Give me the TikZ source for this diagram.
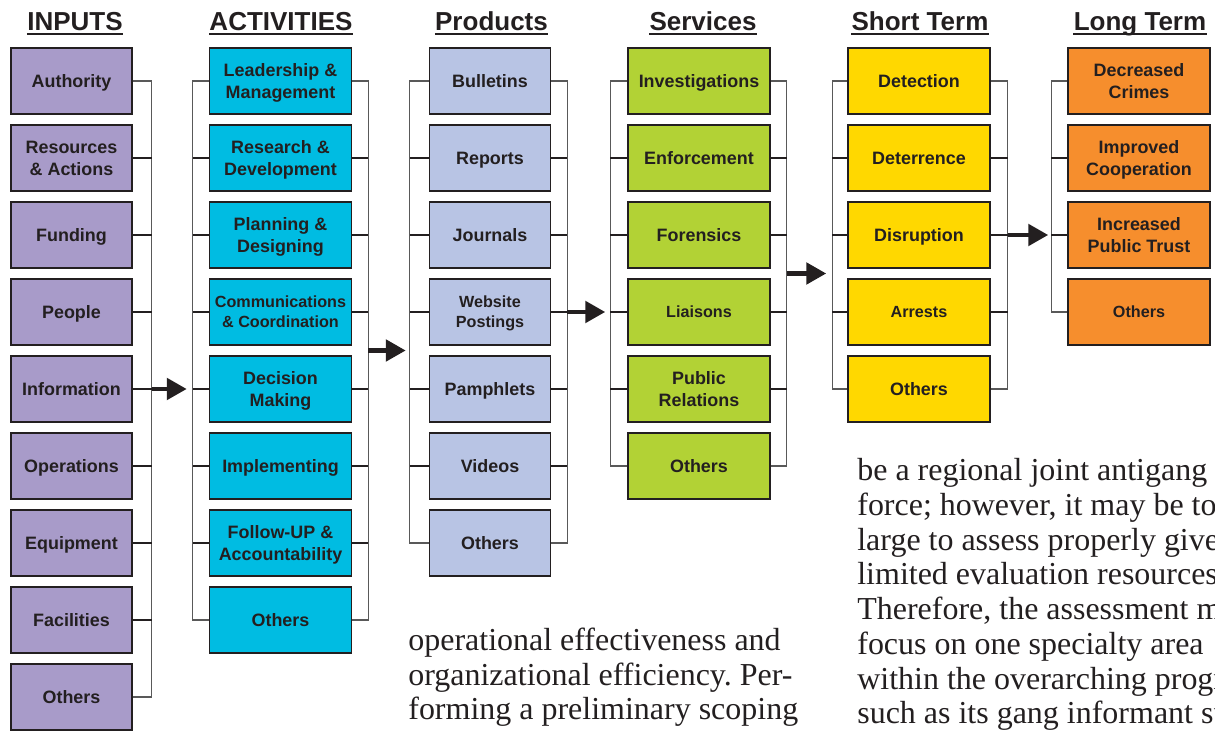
\documentclass[tikz,border=0pt]{standalone}
\usepackage{fontspec}
\setmainfont{Liberation Serif}
\setsansfont{Liberation Sans}
\usetikzlibrary{arrows.meta, calc}
\frenchspacing
\definecolor{ink}{RGB}{35,31,32}
\definecolor{inputfill}{RGB}{168,155,201}
\definecolor{actfill}{RGB}{0,188,226}
\definecolor{prodfill}{RGB}{184,196,228}
\definecolor{servfill}{RGB}{178,210,53}
\definecolor{shortfill}{RGB}{255,216,0}
\definecolor{longfill}{RGB}{246,142,45}
\tikzset{box/.style = {draw=ink, line width=0.8pt, minimum height=1.32cm, inner sep=0pt, text depth=0pt, align=center, text=ink, font=\sffamily\bfseries\fontsize{10.2}{12.4}\selectfont}}
\tikzset{wide/.style = {box, minimum width=2.84cm}, narrow/.style = {box, minimum width=2.42cm}}
\tikzset{small/.style = {font=\sffamily\bfseries\fontsize{9.2}{11.3}\selectfont}}
\tikzset{head/.style = {anchor=base, inner sep=0pt, text=ink, font=\sffamily\bfseries\fontsize{14.8}{16}\selectfont}}
\tikzset{uline/.style = {draw=ink, line width=1.1pt}}
\tikzset{brace/.style = {draw=black!65, line width=0.6pt}, tick/.style = {draw=ink, line width=1pt}}
\tikzset{flow/.style = {draw=ink, line width=2.8pt, -{Triangle[length=0.4cm, width=0.42cm]}}}
\tikzset{body/.style = {anchor=base west, inner sep=0pt, align=left, text=ink, font=\rmfamily\fontsize{18.2}{19.8}\selectfont}}

\begin{document}
\begin{tikzpicture}[x=0.02cm, y=-0.02cm]
\useasboundingbox (0,0) rectangle (1215,732);
\clip (0,0) rectangle (1215,732);

\node[head] (hIn) at (75,31) {INPUTS};
\node[head] (hAct) at (281,31) {ACTIVITIES};
\node[head] (hProd) at (491.5,31) {Products};
\node[head] (hServ) at (703,31) {Services};
\node[head] (hShort) at (920,31) {Short Term};
\node[head] (hLong) at (1140,31) {Long Term};
\foreach \h in {hIn, hAct, hProd, hServ, hShort, hLong}
  \draw[uline] ([yshift=-1.6pt]\h.base west) -- ([yshift=-1.6pt]\h.base east);

\node[narrow, fill=inputfill] (in1) at (71.5,81) {Authority};
\node[narrow, fill=inputfill] (in2) at (71.5,158) {Resources\\\& Actions};
\node[narrow, fill=inputfill] (in3) at (71.5,235) {Funding};
\node[narrow, fill=inputfill] (in4) at (71.5,312) {People};
\node[narrow, fill=inputfill] (in5) at (71.5,389) {Information};
\node[narrow, fill=inputfill] (in6) at (71.5,466) {Operations};
\node[narrow, fill=inputfill] (in7) at (71.5,543) {Equipment};
\node[narrow, fill=inputfill] (in8) at (71.5,620) {Facilities};
\node[narrow, fill=inputfill] (in9) at (71.5,697) {Others};

\node[wide, fill=actfill] (act1) at (280.5,81) {Leadership \&\\Management};
\node[wide, fill=actfill] (act2) at (280.5,158) {Research \&\\Development};
\node[wide, fill=actfill] (act3) at (280.5,235) {Planning \&\\Designing};
\node[wide, fill=actfill, small] (act4) at (280.5,312) {Communications\\\& Coordination};
\node[wide, fill=actfill] (act5) at (280.5,389) {Decision\\Making};
\node[wide, fill=actfill] (act6) at (280.5,466) {Implementing};
\node[wide, fill=actfill] (act7) at (280.5,543) {Follow-UP \&\\Accountability};
\node[wide, fill=actfill] (act8) at (280.5,620) {Others};

\node[narrow, fill=prodfill] (prod1) at (490,81) {Bulletins};
\node[narrow, fill=prodfill] (prod2) at (490,158) {Reports};
\node[narrow, fill=prodfill] (prod3) at (490,235) {Journals};
\node[narrow, fill=prodfill, small] (prod4) at (490,312) {Website\\Postings};
\node[narrow, fill=prodfill] (prod5) at (490,389) {Pamphlets};
\node[narrow, fill=prodfill] (prod6) at (490,466) {Videos};
\node[narrow, fill=prodfill] (prod7) at (490,543) {Others};

\node[wide, fill=servfill] (serv1) at (699,81) {Investigations};
\node[wide, fill=servfill] (serv2) at (699,158) {Enforcement};
\node[wide, fill=servfill] (serv3) at (699,235) {Forensics};
\node[wide, fill=servfill, small] (serv4) at (699,312) {Liaisons};
\node[wide, fill=servfill] (serv5) at (699,389) {Public\\Relations};
\node[wide, fill=servfill] (serv6) at (699,466) {Others};

\node[wide, fill=shortfill] (st1) at (919,81) {Detection};
\node[wide, fill=shortfill] (st2) at (919,158) {Deterrence};
\node[wide, fill=shortfill] (st3) at (919,235) {Disruption};
\node[wide, fill=shortfill, small] (st4) at (919,312) {Arrests};
\node[wide, fill=shortfill] (st5) at (919,389) {Others};

\node[wide, fill=longfill] (lt1) at (1139,81) {Decreased\\Crimes};
\node[wide, fill=longfill] (lt2) at (1139,158) {Improved\\Cooperation};
\node[wide, fill=longfill] (lt3) at (1139,235) {Increased\\Public Trust};
\node[wide, fill=longfill, small] (lt4) at (1139,312) {Others};

% brackets on the right of each column
\draw[brace] (in1.east) -- ++(19,0) |- (in9.east);
\foreach \k in {2,...,8} \draw[tick] (in\k.east) -- ++(19,0);
\draw[brace] (act1.east) -- ++(16,0) |- (act8.east);
\foreach \k in {2,...,7} \draw[tick] (act\k.east) -- ++(16,0);
\draw[brace] (prod1.east) -- ++(16,0) |- (prod7.east);
\foreach \k in {2,...,6} \draw[tick] (prod\k.east) -- ++(16,0);
\draw[brace] (serv1.east) -- ++(16,0) |- (serv6.east);
\foreach \k in {2,...,5} \draw[tick] (serv\k.east) -- ++(16,0);
\draw[brace] (st1.east) -- ++(17,0) |- (st5.east);
\foreach \k in {2,...,4} \draw[tick] (st\k.east) -- ++(17,0);

% brackets on the left of each column
\draw[brace] (act1.west) -- ++(-16,0) |- (act8.west);
\foreach \k in {2,...,7} \draw[tick] (act\k.west) -- ++(-16,0);
\draw[brace] (prod1.west) -- ++(-19,0) |- (prod7.west);
\foreach \k in {2,...,6} \draw[tick] (prod\k.west) -- ++(-19,0);
\draw[brace] (serv1.west) -- ++(-17,0) |- (serv6.west);
\foreach \k in {2,...,5} \draw[tick] (serv\k.west) -- ++(-17,0);
\draw[brace] (st1.west) -- ++(-15,0) |- (st5.west);
\foreach \k in {2,...,4} \draw[tick] (st\k.west) -- ++(-15,0);
\draw[brace] (lt1.west) -- ++(-16,0) |- (lt4.west);
\foreach \k in {2,...,3} \draw[tick] (lt\k.west) -- ++(-16,0);

\coordinate (inR) at ($(in1.east)!0.5!(in9.east)+(19,0)$);
\coordinate (actR) at ($(act1.east)!0.5!(act8.east)+(16,0)$);
\coordinate (prodR) at ($(prod1.east)!0.5!(prod7.east)+(16,0)$);
\coordinate (servR) at ($(serv1.east)!0.5!(serv6.east)+(16,0)$);
\coordinate (stR) at ($(st1.east)!0.5!(st5.east)+(17,0)$);
\coordinate (actL) at ($(act1.west)+(-16,0)$);
\coordinate (prodL) at ($(prod1.west)+(-19,0)$);
\coordinate (servL) at ($(serv1.west)+(-17,0)$);
\coordinate (stL) at ($(st1.west)+(-15,0)$);
\coordinate (ltL) at ($(lt1.west)+(-16,0)$);

\draw[flow] (inR) -- ($(inR -| actL)+(-6,0)$);
\draw[flow] (actR) -- ($(actR -| prodL)+(-4,0)$);
\draw[flow] (prodR) -- ($(prodR -| servL)+(-5,0)$);
\draw[flow] (servR) -- ($(servR -| stL)+(-6,0)$);
\draw[flow] (stR) -- ($(stR -| ltL)+(-3,0)$);

\node[body] (leftcol) at (408,720) {operational effectiveness and\\organizational efficiency. Per-\\forming a preliminary scoping};
\node[body] (rightcol) at (857,724) {be a regional joint antigang task\\force; however, it may be too\\large to assess properly given\\limited evaluation resources.\\Therefore, the assessment may\\focus on one specialty area\\within the overarching program,\\such as its gang informant sub-};
\end{tikzpicture}
\end{document}
